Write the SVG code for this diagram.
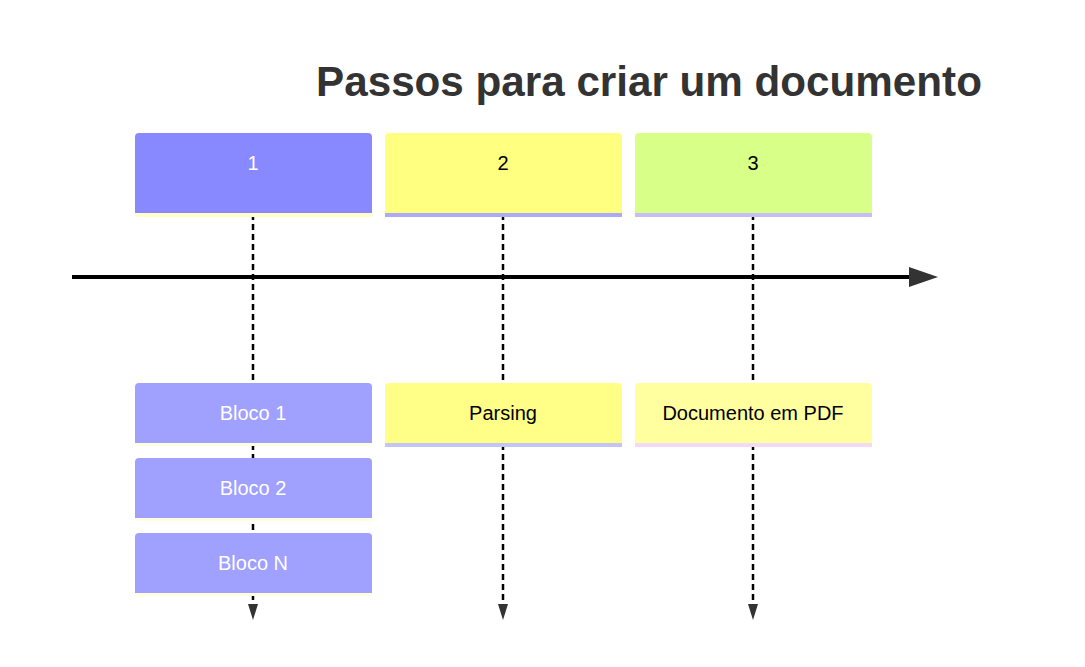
<svg xmlns="http://www.w3.org/2000/svg" width="1085" height="667" viewBox="0 0 1085 667">
<style>
.lbl{font-family:"Liberation Sans",Arial,sans-serif;font-size:20px;text-anchor:middle;dominant-baseline:central}
.w{fill:#ffffff}
.b{fill:#000000}
.dash{stroke:#000;stroke-width:2.5;stroke-dasharray:6 4;fill:none}
.head{fill:#333}
</style>
<rect width="1085" height="667" fill="#fff"/>
<text x="649" y="96" font-family="Liberation Sans,Arial,sans-serif" font-size="42.2" font-weight="bold" fill="#333" text-anchor="middle">Passos para criar um documento</text>
<g id="connectors">
<line x1="72" y1="277" x2="912" y2="277" stroke="#000" stroke-width="4"/>
<path class="head" d="M909,267 L938,277 L909,287 Z"/>
<line class="dash" x1="253" y1="214" x2="253" y2="604"/>
<line class="dash" x1="503" y1="214" x2="503" y2="604"/>
<line class="dash" x1="753" y1="214" x2="753" y2="604"/>
<path class="head" d="M248,604 L258,604 L253,620 Z"/>
<path class="head" d="M498,604 L508,604 L503,620 Z"/>
<path class="head" d="M748,604 L758,604 L753,620 Z"/>
</g>
<g id="step1">
<path d="M135,137 Q135,133 139,133 L368,133 Q372,133 372,137 L372,213 L135,213 Z" fill="#8888ff"/>
<rect x="135" y="213" width="237" height="4" fill="#ffffc8"/>
<text class="lbl w" x="253" y="163">1</text>
</g>
<g id="step2">
<path d="M385,137 Q385,133 389,133 L618,133 Q622,133 622,137 L622,213 L385,213 Z" fill="#ffff80"/>
<rect x="385" y="213" width="237" height="4" fill="#aaaaf8"/>
<text class="lbl b" x="503" y="163">2</text>
</g>
<g id="step3">
<path d="M635,137 Q635,133 639,133 L868,133 Q872,133 872,137 L872,213 L635,213 Z" fill="#d8ff88"/>
<rect x="635" y="213" width="237" height="4" fill="#c8bcf8"/>
<text class="lbl b" x="753" y="163">3</text>
</g>
<g id="bloco1">
<path d="M135,387 Q135,383 139,383 L368,383 Q372,383 372,387 L372,443 L135,443 Z" fill="#a0a0ff"/>
<rect x="135" y="443" width="237" height="3" fill="#ffffe0"/>
<text class="lbl w" x="253" y="413">Bloco 1</text>
</g>
<g id="bloco2">
<path d="M135,462 Q135,458 139,458 L368,458 Q372,458 372,462 L372,518 L135,518 Z" fill="#a0a0ff"/>
<rect x="135" y="518" width="237" height="3" fill="#ffffe0"/>
<text class="lbl w" x="253" y="488">Bloco 2</text>
</g>
<g id="blocoN">
<path d="M135,537 Q135,533 139,533 L368,533 Q372,533 372,537 L372,593 L135,593 Z" fill="#a0a0ff"/>
<rect x="135" y="593" width="237" height="3" fill="#ffffe0"/>
<text class="lbl w" x="253" y="563">Bloco N</text>
</g>
<g id="parsing">
<path d="M385,387 Q385,383 389,383 L618,383 Q622,383 622,387 L622,443 L385,443 Z" fill="#ffff88"/>
<rect x="385" y="443" width="237" height="4" fill="#c4c4f8"/>
<text class="lbl b" x="503" y="413">Parsing</text>
</g>
<g id="documento">
<path d="M635,387 Q635,383 639,383 L868,383 Q872,383 872,387 L872,443 L635,443 Z" fill="#ffffa0"/>
<rect x="635" y="443" width="237" height="4" fill="#f2daf8"/>
<text class="lbl b" x="753" y="413">Documento em PDF</text>
</g>
</svg>
